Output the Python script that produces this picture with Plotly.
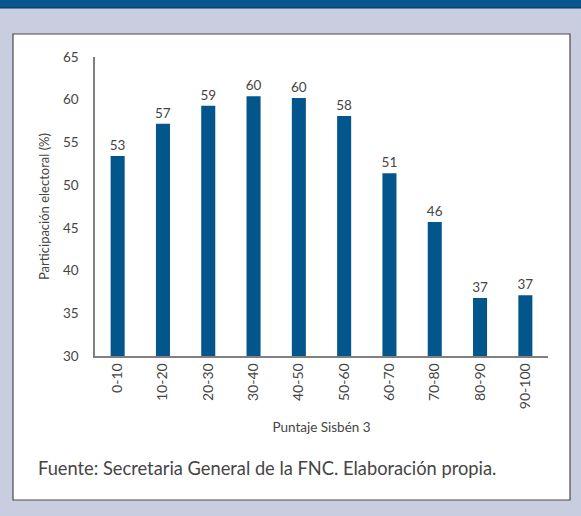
import plotly.graph_objects as go

categories = ["0-10", "10-20", "20-30", "30-40", "40-50", "50-60", "60-70", "70-80", "80-90", "90-100"]
values = [53.4, 57.2, 59.3, 60.4, 60.2, 58.1, 51.4, 45.7, 36.8, 37.1]
labels = ["53", "57", "59", "60", "60", "58", "51", "46", "37", "37"]
y_ticks = [30, 35, 40, 45, 50, 55, 60, 65]

W, H = 581, 516
L, R, T, B = 95, 33, 57, 160
pw, ph = W - L - R, H - T - B

def px(x):
    return (x - L) / pw

def py(y):
    return (H - B - y) / ph

FONT = "Lato"
GREY = "#454545"

fig = go.Figure(go.Bar(
    x=categories, y=values, text=labels, textposition="outside",
    marker=dict(color="#03568b", line=dict(width=0)),
    textfont=dict(size=13.5, color=GREY, family=FONT),
    constraintext="none",
    cliponaxis=False, width=0.31,
))

fig.update_layout(
    width=W, height=H,
    margin=dict(l=L, r=R, t=T, b=B),
    paper_bgcolor="#c8cde0", plot_bgcolor="rgba(0,0,0,0)",
    showlegend=False,
    font=dict(family=FONT, color=GREY, size=13),
    xaxis=dict(
        showline=True, linecolor="#808080", linewidth=1.5, ticks="",
        tickangle=-90, tickfont=dict(size=14, color=GREY),
        title=dict(text="Puntaje Sisbén 3", font=dict(size=13.5, color=GREY), standoff=14),
        showgrid=False,
    ),
    yaxis=dict(
        range=[30, 65], tickvals=y_ticks, showline=True, linecolor="#808080", linewidth=1.5,
        ticks="", showgrid=False, zeroline=False, tickfont=dict(size=13.5, color=GREY),
        ticklabelstandoff=12,
        title=dict(text="Participación electoral (%)", font=dict(size=13, color=GREY), standoff=10),
    ),
    shapes=[
        dict(type="rect", xref="paper", yref="paper", x0=px(13), x1=px(570), y0=py(34), y1=py(500),
             fillcolor="white", line=dict(color="#4a4a4a", width=1.2), layer="below"),
        dict(type="rect", xref="paper", yref="paper", x0=px(-5), x1=px(W + 5), y0=py(-5), y1=py(8),
             fillcolor="#0a5590", line=dict(width=0), layer="below"),
        dict(type="line", xref="paper", yref="paper", x0=px(0), x1=px(W), y0=py(8), y1=py(8),
             line=dict(color="#06365a", width=1.2), layer="below"),
    ],
    annotations=[
        dict(text="Fuente: Secretaria General de la FNC. Elaboración propia.", xref="paper", yref="paper",
             x=px(36), y=py(468), xanchor="left", yanchor="middle", showarrow=False,
             font=dict(size=18.3, color=GREY, family=FONT)),
    ],
)

fig.write_html("out.html", config={"displayModeBar": False},
               post_script="document.body.style.margin='0';document.body.style.background='#c8cde0';")
